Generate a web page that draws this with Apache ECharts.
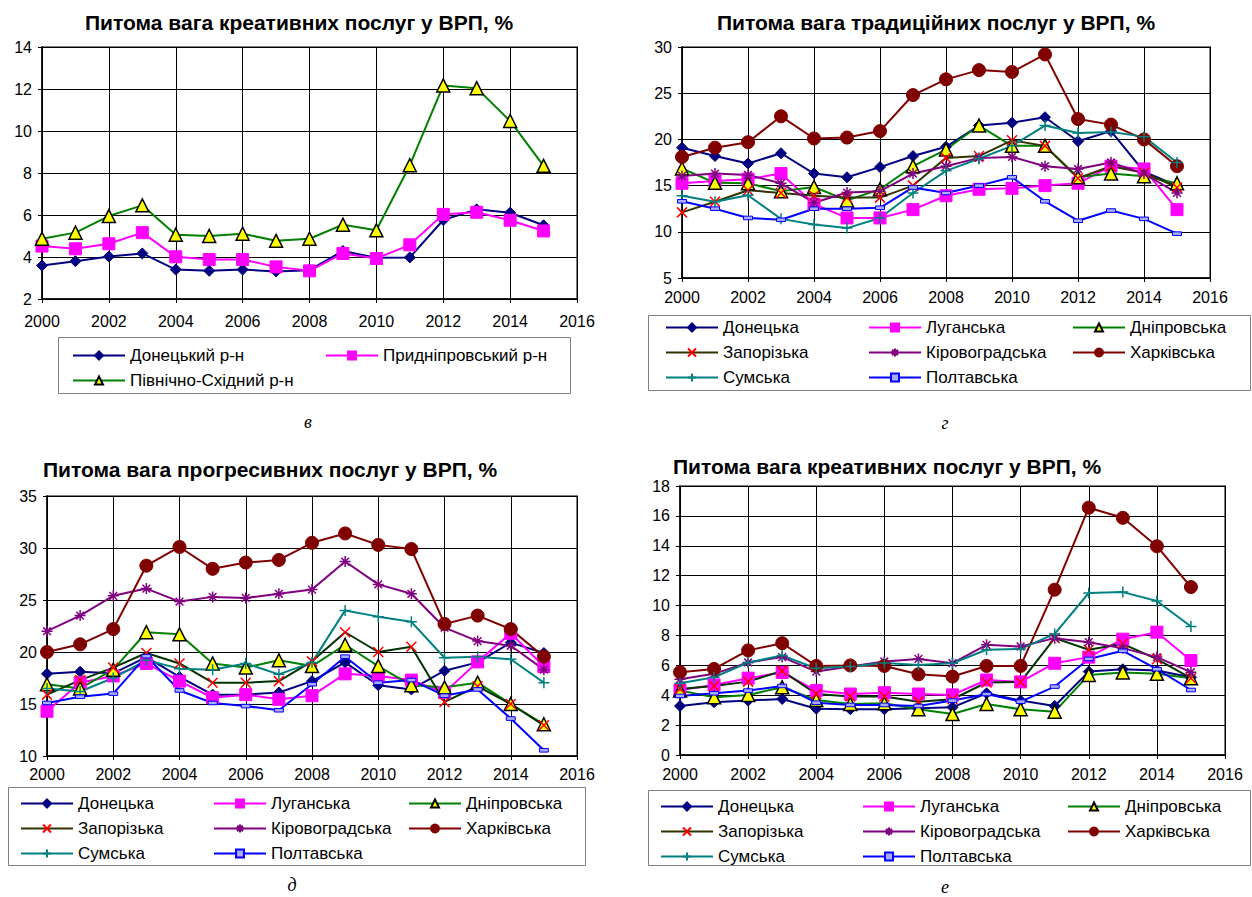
<!DOCTYPE html>
<html><head><meta charset="utf-8">
<script src="https://cdn.jsdelivr.net/npm/echarts@6/dist/echarts.min.js"></script>
<style>html,body{margin:0;padding:0;background:#fff}#c{width:1252px;height:897px}</style>
</head><body><div id="c"></div>
<script>
// ---------- DATA ----------
const years = [2000,2001,2002,2003,2004,2005,2006,2007,2008,2009,2010,2011,2012,2013,2014,2015];
const xTicks = [2000,2002,2004,2006,2008,2010,2012,2014,2016];

// Panel в: creative services by economic region
const titleA = 'Питома вага креативних послуг у ВРП, %';
const regionNames = ['Донецький р-н','Придніпровський р-н','Північно-Східний р-н'];
const aDonetskyi   = [3.59,3.80,4.02,4.17,3.40,3.34,3.40,3.31,3.37,4.29,3.96,3.98,5.76,6.27,6.11,5.51];
const aPrydnipr    = [4.52,4.39,4.63,5.16,4.01,3.88,3.88,3.53,3.34,4.17,3.93,4.58,6.03,6.13,5.75,5.24];
const aPivnichSkh  = [4.87,5.16,5.95,6.46,5.06,5.00,5.11,4.77,4.87,5.54,5.27,8.37,12.17,12.04,10.48,8.34];

const oblastNames = ['Донецька','Луганська','Дніпровська','Запорізька','Кіровоградська','Харківська','Сумська','Полтавська'];

// Panel г: traditional services
const titleB = 'Питома вага традиційних послуг у ВРП, %';
const bDonetska   = [19.1,18.2,17.4,18.5,16.3,15.9,17.0,18.2,19.2,21.5,21.8,22.4,19.8,20.9,16.5,15.0];
const bLuhanska   = [15.25,15.5,15.7,16.3,13.0,11.5,11.5,12.4,13.9,14.6,14.7,15.0,15.25,17.1,16.8,12.4];
const bDnipro     = [16.85,15.3,15.25,14.4,14.85,13.4,14.6,17.1,18.9,21.5,19.3,19.3,15.9,16.3,16.0,15.25];
const bZaporizka  = [12.1,13.25,14.5,14.2,13.9,13.7,13.7,15.0,18.0,18.2,19.9,19.3,15.8,17.1,16.4,14.8];
const bKirovohr   = [16.05,16.3,16.15,15.25,13.15,14.25,14.4,16.3,17.1,18.0,18.1,17.1,16.8,17.5,16.3,14.2];
const bKharkiv    = [18.1,19.1,19.7,22.5,20.1,20.2,20.9,24.8,26.5,27.5,27.3,29.2,22.2,21.6,20.0,17.1];
const bSumska     = [13.9,13.25,13.95,11.4,10.8,10.4,11.5,14.2,16.6,17.9,19.3,21.5,20.7,20.8,20.3,17.5];
const bPoltava    = [13.3,12.5,11.5,11.3,12.5,12.5,12.6,14.8,14.2,15.0,15.9,13.3,11.2,12.3,11.4,9.8];

// Panel д: progressive services
const titleC = 'Питома вага прогресивних послуг у ВРП, %';
const cDonetska   = [17.9,18.1,17.95,19.5,17.6,15.9,15.9,16.1,17.2,19.0,16.8,16.4,18.2,19.0,20.9,19.9];
const cLuhanska   = [14.3,17.05,17.7,18.9,17.2,15.6,15.9,15.45,15.8,17.9,17.7,17.3,16.1,19.05,21.8,18.6];
const cDnipro     = [16.9,16.5,18.3,21.9,21.7,18.9,18.5,19.2,18.65,20.7,18.65,16.8,16.6,17.05,15.0,13.05];
const cZaporizka  = [15.9,17.3,18.5,19.9,18.9,17.05,17.05,17.2,19.1,21.9,20.0,20.5,15.2,16.7,15.0,12.95];
const cKirovohr   = [22.0,23.5,25.4,26.1,24.85,25.3,25.2,25.6,26.0,28.7,26.5,25.6,22.35,21.05,20.6,18.3];
const cKharkiv    = [20.0,20.74,22.2,28.3,30.1,28.0,28.6,28.85,30.5,31.4,30.3,29.9,22.7,23.5,22.2,19.55];
const cSumska     = [16.5,16.2,17.5,19.2,18.4,18.3,18.9,17.85,19.0,24.0,23.4,22.9,19.45,19.55,19.3,17.05];
const cPoltava    = [15.1,15.7,16.0,19.6,16.3,15.1,14.8,14.4,16.9,19.55,17.05,17.3,15.8,16.4,13.6,10.55];

// Panel е: creative services by oblast
const titleD = 'Питома вага креативних послуг у ВРП, %';
const dDonetska   = [3.28,3.53,3.64,3.75,3.10,3.06,3.06,3.12,3.19,4.13,3.64,3.28,5.58,5.74,5.65,5.20];
const dLuhanska   = [4.35,4.69,5.14,5.52,4.31,4.08,4.17,4.08,4.02,5.02,4.89,6.14,6.55,7.75,8.22,6.32];
const dDnipro     = [4.31,3.86,4.02,4.53,3.68,3.41,3.46,3.06,2.74,3.41,3.06,2.90,5.36,5.52,5.43,5.14];
const dZaporizka  = [4.42,4.62,4.91,5.63,4.08,3.91,3.91,3.57,3.73,4.85,4.89,7.82,7.04,7.44,6.41,5.14];
const dKirovohr   = [5.07,5.43,6.19,6.55,5.58,5.92,6.26,6.43,6.14,7.37,7.26,7.82,7.55,7.15,6.55,5.54];
const dKharkiv    = [5.54,5.76,7.00,7.48,5.96,5.99,5.96,5.40,5.25,5.96,5.96,11.06,16.55,15.87,13.97,11.24];
const dSumska     = [4.80,5.20,6.19,6.66,5.80,5.92,6.15,6.03,6.14,7.04,7.10,8.10,10.84,10.90,10.30,8.60];
const dPoltava    = [3.95,4.13,4.31,4.62,3.50,3.35,3.35,3.28,3.64,4.08,3.57,4.58,6.43,6.97,5.74,4.35];

const captions = ['в','г','д','е'];

// ---------- STYLE ----------
const FONT = '"Liberation Sans", Arial, sans-serif';
const SYM_X = 'path://M0,0L10,10M10,0L0,10';
const SYM_AST = 'path://M5,0L5,10M0,5L10,5M1.5,1.5L8.5,8.5M8.5,1.5L1.5,8.5';
const SYM_PLUS = 'path://M5,0L5,10M0,5L10,5';
const SYM_DASH = 'path://M0,0L10,0L10,4L0,4Z';
function styleFor(name, zapColor){
  switch(name){
    case 'Донецька': case 'Донецький р-н': return {line:'#000080', symbol:'diamond', size:11, fill:'#000080', border:'#000080', bw:1};
    case 'Луганська': case 'Придніпровський р-н': return {line:'#FF00FF', symbol:'rect', size:12, fill:'#FF00FF', border:'#FF00FF', bw:1};
    case 'Дніпровська': case 'Північно-Східний р-н': return {line:'#008000', symbol:'triangle', size:13, fill:'#FFFF00', border:'#000000', bw:1.5};
    case 'Запорізька': return {line:zapColor, symbol:SYM_X, size:10, fill:'#FF0000', border:'#FF0000', bw:1.5};
    case 'Кіровоградська': return {line:'#800080', symbol:SYM_AST, size:11, fill:'#800080', border:'#800080', bw:1.5};
    case 'Харківська': return {line:'#800000', symbol:'circle', size:13, fill:'#800000', border:'#800000', bw:1};
    case 'Сумська': return {line:'#008080', symbol:SYM_PLUS, size:11, fill:'#008080', border:'#008080', bw:1.5};
    case 'Полтавська': return {line:'#0000FF', symbol:SYM_DASH, size:9, fill:'#aaaaff', border:'#0000FF', bw:1, keep:true};
  }
}
function mkSeries(name, vals, gi, zapColor){
  const s = styleFor(name, zapColor);
  return {
    type:'line', name:name, xAxisIndex:gi, yAxisIndex:gi, clip:false,
    data: years.map((y,i)=>[y, vals[i]]),
    symbol:s.symbol, symbolSize:s.size, symbolKeepAspect:!!s.keep, showAllSymbol:true,
    lineStyle:{color:s.line, width:2},
    itemStyle:{color:s.fill, borderColor:s.border, borderWidth:s.bw},
    emphasis:{disabled:true}, animation:false
  };
}

const grids = [
  {left:42, top:47, width:535, height:252},
  {left:682, top:47, width:528, height:231},
  {left:47, top:496, width:530, height:260},
  {left:680, top:486, width:545, height:269}
];
const yCfg = [{min:2,max:14,interval:2},{min:5,max:30,interval:5},{min:10,max:35,interval:5},{min:0,max:18,interval:2}];
const xMargin = [14,11,10,11];

const xAxis = grids.map((g,i)=>({
  type:'value', gridIndex:i, min:xTicks[0], max:xTicks[xTicks.length-1], interval:2,
  axisLine:{show:true, onZero:false, lineStyle:{color:'#000', width:1.5}},
  axisTick:{show:true, length:4, lineStyle:{color:'#000'}},
  axisLabel:{color:'#000', fontFamily:FONT, fontSize:16, margin:xMargin[i], formatter:v=>String(v)},
  splitLine:{show:true, lineStyle:{color:'#000', width:1}}
}));
const yAxis = grids.map((g,i)=>({
  type:'value', gridIndex:i, min:yCfg[i].min, max:yCfg[i].max, interval:yCfg[i].interval,
  axisLine:{show:true, lineStyle:{color:'#000', width:1.5}},
  axisTick:{show:true, length:4, lineStyle:{color:'#000'}},
  axisLabel:{color:'#000', fontFamily:FONT, fontSize:16, margin:10},
  splitLine:{show:true, lineStyle:{color:'#000', width:1}}
}));

const series = [];
[aDonetskyi,aPrydnipr,aPivnichSkh].forEach((v,i)=>series.push(mkSeries(regionNames[i], v, 0)));
[bDonetska,bLuhanska,bDnipro,bZaporizka,bKirovohr,bKharkiv,bSumska,bPoltava].forEach((v,i)=>series.push(mkSeries(oblastNames[i], v, 1, '#333300')));
[cDonetska,cLuhanska,cDnipro,cZaporizka,cKirovohr,cKharkiv,cSumska,cPoltava].forEach((v,i)=>series.push(mkSeries(oblastNames[i], v, 2, '#003300')));
[dDonetska,dLuhanska,dDnipro,dZaporizka,dKirovohr,dKharkiv,dSumska,dPoltava].forEach((v,i)=>series.push(mkSeries(oblastNames[i], v, 3, '#003300')));

function legendCol(names, left, top){
  return {
    orient:'vertical', left:left, top:top, data:names, itemWidth:52, itemHeight:10, itemGap:8,
    selectedMode:false, padding:0,
    textStyle:{color:'#000', fontFamily:FONT, fontSize:17}
  };
}
const cols = [[0,3,6],[1,4,7],[2,5]];
const legend = [
  legendCol([regionNames[0], regionNames[2]], 72, 347),
  legendCol([regionNames[1]], 325, 347),
  ...cols.map((c,k)=>legendCol(c.map(j=>oblastNames[j]), [665,868,1072][k], 319)),
  ...cols.map((c,k)=>legendCol(c.map(j=>oblastNames[j]), [20,213,408][k], 795)),
  ...cols.map((c,k)=>legendCol(c.map(j=>oblastNames[j]), [660,862,1067][k], 798))
];

const titleStyle = {color:'#000', fontFamily:FONT, fontSize:21, fontWeight:'bold'};
const title = [
  {text:titleA, left:80, top:7, textStyle:titleStyle},
  {text:titleB, left:712, top:7, textStyle:titleStyle},
  {text:titleC, left:38, top:454, textStyle:titleStyle},
  {text:titleD, left:668, top:451, textStyle:titleStyle}
];

const boxStyle = {fill:'none', stroke:'#808080', lineWidth:1};
const capStyle = {fontFamily:'"Liberation Serif", "DejaVu Serif", serif', fontSize:18, fontStyle:'italic', fill:'#000', textAlign:'center', textVerticalAlign:'middle'};
const graphic = [
  {type:'rect', shape:{x:58.5, y:337.5, width:512, height:56}, style:boxStyle, silent:true},
  {type:'rect', shape:{x:648.5, y:315.5, width:602, height:75}, style:boxStyle, silent:true},
  {type:'rect', shape:{x:8.5, y:787.5, width:577, height:78}, style:boxStyle, silent:true},
  {type:'rect', shape:{x:648.5, y:790.5, width:602, height:75}, style:boxStyle, silent:true},
  {type:'text', x:308, y:422, style:Object.assign({text:captions[0]}, capStyle)},
  {type:'text', x:945, y:423, style:Object.assign({text:captions[1]}, capStyle)},
  {type:'text', x:292, y:885, style:Object.assign({text:captions[2]}, capStyle)},
  {type:'text', x:945, y:887, style:Object.assign({text:captions[3]}, capStyle)}
];

const chart = echarts.init(document.getElementById('c'), null, {renderer:'svg', width:1252, height:897});
chart.setOption({
  backgroundColor:'#fff', animation:false,
  title, legend, graphic,
  grid: grids.map(g=>Object.assign({show:true, borderColor:'#808080', borderWidth:2, backgroundColor:'#fff'}, g)),
  xAxis, yAxis, series
});
</script></body></html>
